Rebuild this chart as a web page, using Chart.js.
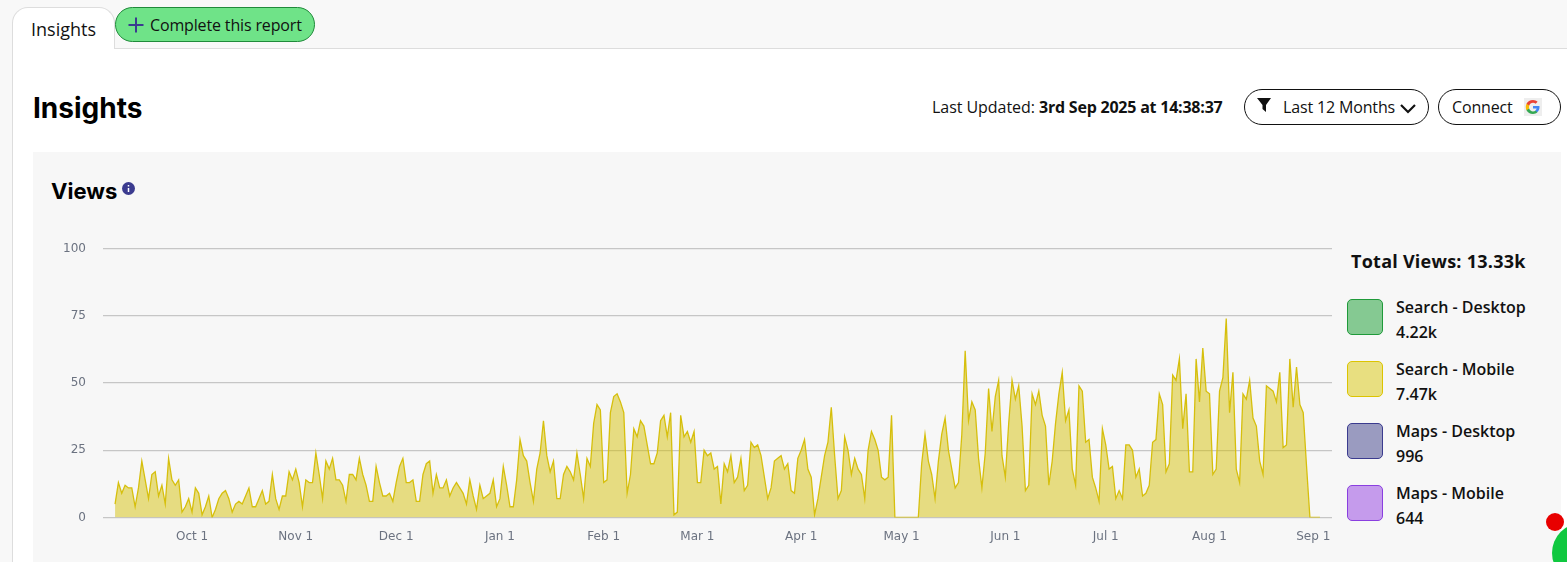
<!DOCTYPE html>
<html>
<head>
<meta charset="utf-8">
<title>Insights</title>
<script src="https://cdn.jsdelivr.net/npm/chart.js@4"></script>
<style>
    html, body { margin: 0; padding: 0; width: 1567px; height: 562px; overflow: hidden; background: #f8f8f8; font-family: "Open Sans", "Noto Sans", sans-serif; color: #111; }
    .abs { position: absolute; white-space: nowrap; }
    .page { position: absolute; left: 12px; top: 48px; width: 1555px; height: 514px; background: #fff; border-left: 1px solid #ddd; border-top: 1px solid #ddd; box-sizing: border-box; }
    .tab { left: 12px; top: 7px; width: 103px; height: 42px; background: #fff; border: 1px solid #ddd; border-bottom: none; border-radius: 16px 16px 0 0; box-sizing: border-box; font-size: 18px; line-height: 42px; padding-left: 18px; }
    .complete { left: 115px; top: 7px; width: 200px; height: 35px; background: #6fe388; border: 1px solid #1f8a3a; border-radius: 18px; box-sizing: border-box; font-size: 16px; line-height: 34px; padding-left: 34px; letter-spacing: -.15px; }
    h1, h2 { margin: 0; font-family: Inter, sans-serif; font-weight: 700; color: #000; }
    .pill { top: 89px; height: 36px; border: 1px solid #111; border-radius: 18px; box-sizing: border-box; background: #fff; font-size: 16px; line-height: 34px; letter-spacing: -.15px; }
    .panel { left: 33px; top: 152px; width: 1528px; height: 410px; background: #f7f7f7; }
    #chart { position: absolute; left: 33px; top: 152px; }
    .swatch { left: 1347px; width: 36px; height: 36px; border-radius: 5px; box-sizing: border-box; border: 1px solid; }
    .legend-text { left: 1396px; font-size: 16px; font-weight: 600; line-height: 25px; color: #111; }
</style>
</head>
<body>
<div class="abs page"></div>
<div class="abs tab">Insights</div>
<div class="abs complete">Complete this report</div>
<svg class="abs" style="left:127px;top:16px" width="18" height="18"><path d="M9 1.500v15M1.500 9h15" stroke="#3b3b8f" stroke-width="2"/></svg>

<h1 class="abs" style="left:33px;top:91px;font-size:28px;line-height:34px">Insights</h1>
<div class="abs" style="left:932px;top:96px;font-size:16px;line-height:22px;letter-spacing:-.05px">Last Updated:</div>
<div class="abs" style="left:1039px;top:96px;font-size:16px;line-height:22px;font-weight:700;letter-spacing:-.22px">3rd Sep 2025 at 14:38:37</div>

<div class="abs pill" style="left:1244px;width:185px;padding-left:38px">Last 12 Months</div>
<svg class="abs" style="left:1256px;top:97px" width="16" height="16"><path d="M1 1h14L10 8v7L6.500 12V8z" fill="#111"/></svg>
<svg class="abs" style="left:1399px;top:103px" width="18" height="12"><path d="M2 2l7 7 7-7" fill="none" stroke="#111" stroke-width="2.200"/></svg>
<div class="abs pill" style="left:1438px;width:123px;padding-left:13px">Connect</div>
<svg class="abs" style="left:1524px;top:98px" width="18" height="18" viewBox="0 0 18 18">
    <rect width="18" height="18" fill="#eee"/>
    <path d="M15.500 9.200c0-.5 0-.9-.1-1.300H9v2.500h3.700c-.2.800-.6 1.400-1.300 1.900v1.600h2.100c1.200-1.100 2-2.800 2-4.700z" fill="#4285f4"/>
    <path d="M9 16c1.800 0 3.300-.6 4.500-1.700l-2.100-1.600c-.6.400-1.400.7-2.400.7-1.800 0-3.300-1.200-3.800-2.900H2.500v1.700C3.600 14.500 6.100 16 9 16z" fill="#34a853"/>
    <path d="M5.200 10.500c-.3-1-.3-2 0-3V5.800H2.500c-1 2-1 4.400 0 6.400z" fill="#fbbc05"/>
    <path d="M9 4.800c1 0 1.900.4 2.600 1l2-2C12.400 2.700 10.800 2 9 2 6.100 2 3.600 3.500 2.500 5.800l2.700 1.700C5.700 6 7.200 4.800 9 4.800z" fill="#ea4335"/>
</svg>

<div class="abs panel"></div>
<h2 class="abs" style="left:51px;top:177px;font-size:22px;line-height:28px">Views</h2>
<svg class="abs" style="left:122px;top:182px" width="13" height="13"><circle cx="6.500" cy="6.500" r="6.500" fill="#3b3b8f"/><path d="M6.500 3v1.500M6.500 6v4" stroke="#fff" stroke-width="1.500"/></svg>

<canvas id="chart" width="1307" height="410"></canvas>

<div class="abs" id="total" style="left:1351px;top:249px;font-size:18px;font-weight:700;line-height:24px;letter-spacing:.25px"></div>
<div id="legend"></div>

<div class="abs" style="left:1552px;top:523px;width:60px;height:60px;border-radius:50%;background:#10c840"></div>
<div class="abs" style="left:1546px;top:513px;width:18px;height:18px;border-radius:50%;background:#e80000"></div>

<script>
const monthTicks = [23, 54, 84, 115, 146, 174, 205, 235, 266, 296, 327, 358];
const monthLabels = ['Oct 1', 'Nov 1', 'Dec 1', 'Jan 1', 'Feb 1', 'Mar 1', 'Apr 1', 'May 1', 'Jun 1', 'Jul 1', 'Aug 1', 'Sep 1'];
const yTicks = [0, 25, 50, 75, 100];

// Search - Mobile views per day from 8 Sep
const searchMobile = [
    5, 13, 9, 12, 11, 11, 4, 11, 21, 14, 7, 16, 17, 8, 12, 5, 22, 14, 12, 14,
    2, 4, 7, 2, 11, 9, 1, 4, 8, 0, 3, 7, 9, 10, 7, 2, 5, 6, 5, 8,
    11, 4, 4, 7, 10, 5, 6, 16, 7, 3, 8, 8, 17, 14, 18, 13, 4, 14, 13, 13,
    24, 16, 7, 21, 18, 22, 14, 14, 12, 6, 16, 16, 14, 22, 16, 12, 6, 6, 19, 13,
    8, 8, 9, 6, 13, 19, 22, 13, 13, 14, 6, 6, 16, 20, 21, 9, 16, 11, 11, 14,
    8, 11, 13, 11, 9, 5, 14, 8, 3, 12, 7, 8, 9, 14, 4, 7, 19, 12, 4, 4,
    14, 29, 23, 21, 13, 6, 18, 24, 36, 23, 17, 21, 7, 7, 16, 19, 17, 14, 24, 16,
    7, 22, 19, 35, 42, 40, 13, 14, 39, 45, 46, 43, 39, 9, 16, 33, 30, 36, 34, 27,
    20, 20, 24, 36, 38, 30, 39, 1, 2, 38, 30, 32, 28, 32, 13, 13, 25, 23, 24, 18,
    19, 5, 20, 17, 23, 13, 15, 22, 10, 12, 28, 26, 27, 23, 15, 7, 11, 21, 22, 23,
    18, 20, 10, 9, 22, 25, 29, 18, 15, 1, 7, 15, 23, 28, 41, 23, 7, 10, 30, 25,
    16, 22, 18, 16, 7, 25, 32, 29, 25, 15, 14, 15, 38, 0, 0, 0, 0, 0, 0, 0,
    0, 20, 31, 21, 16, 7, 21, 31, 37, 25, 18, 11, 13, 31, 62, 36, 43, 40, 22, 11,
    24, 48, 32, 45, 51, 23, 15, 35, 51, 44, 49, 34, 10, 12, 46, 42, 47, 38, 34, 12,
    21, 35, 46, 54, 36, 40, 18, 12, 49, 47, 28, 29, 15, 11, 6, 33, 27, 18, 19, 7,
    10, 7, 27, 27, 25, 15, 18, 8, 9, 12, 28, 29, 46, 42, 17, 20, 53, 51, 59, 33,
    46, 17, 17, 59, 43, 63, 47, 46, 16, 18, 47, 52, 74, 39, 54, 18, 13, 46, 44, 51,
    37, 34, 21, 16, 49, 48, 47, 43, 54, 26, 27, 59, 41, 56, 42, 39, 19, 0, 0, 0, 0
];

const legendNames = ['Search - Desktop', 'Search - Mobile', 'Maps - Desktop', 'Maps - Mobile'];
const legendValues = ['4.22k', '7.47k', '996', '644'];
const legendFill = ['#85c992', '#e8df80', '#9a9bc0', '#c59bec'];
const legendBorder = ['#1f9a3a', '#dcc400', '#3b3b8f', '#8a3fe0'];
const totalViews = 'Total Views: 13.33k';

document.getElementById('total').textContent = totalViews;

// legend on the right
const legendBox = document.getElementById('legend');
legendNames.forEach((name, i) => {
    const top = 299 + i * 62;
    const sw = document.createElement('div');
    sw.className = 'abs swatch';
    sw.style.top = top + 'px';
    sw.style.background = legendFill[i];
    sw.style.borderColor = legendBorder[i];
    legendBox.appendChild(sw);
    const txt = document.createElement('div');
    txt.className = 'abs legend-text';
    txt.style.top = (top - 4) + 'px';
    txt.innerHTML = name + '<br>' + legendValues[i];
    legendBox.appendChild(txt);
});

const canvas = document.getElementById('chart');
const ctx = canvas.getContext('2d');

new Chart(ctx, {
    type: 'line',
    data: {
        datasets: [{
            label: 'Search - Mobile',
            data: searchMobile.map((v, i) => ({ x: i, y: v })),
            borderColor: '#d6bf0c',
            backgroundColor: 'rgba(212, 190, 0, 0.48)',
            borderWidth: 1.3,
            fill: 'origin',
            tension: 0,
            pointRadius: 0,
        }]
    },
    options: {
        responsive: false,
        animation: false,
        devicePixelRatio: 1,
        layout: { padding: { top: 96.7, right: 8, left: 0, bottom: 0 } },
        plugins: { legend: { display: false }, tooltip: { enabled: false } },
        scales: {
            x: {
                type: 'linear',
                min: -3.6,
                max: 363.6,
                grid: { display: false },
                border: { display: false },
                afterBuildTicks: (axis) => { axis.ticks = monthTicks.map(v => ({ value: v })); },
                afterFit: (axis) => { axis.height = 44.5; },
                ticks: {
                    autoSkip: false,
                    maxRotation: 0,
                    padding: 4,
                    color: '#6b7280',
                    font: { family: 'DejaVu Sans', size: 12 },
                    callback: (v) => monthLabels[monthTicks.indexOf(v)],
                },
            },
            y: {
                min: 0,
                max: 100,
                afterBuildTicks: (axis) => { axis.ticks = yTicks.map(v => ({ value: v })); },
                afterFit: (axis) => { axis.width = 70; },
                grid: { color: '#c6c6c6', lineWidth: 1.3, drawTicks: false },
                border: { display: false },
                ticks: {
                    padding: 17,
                    color: '#6b7280',
                    font: { family: 'DejaVu Sans', size: 12 },
                },
            },
        },
    },
});
</script>
</body>
</html>
